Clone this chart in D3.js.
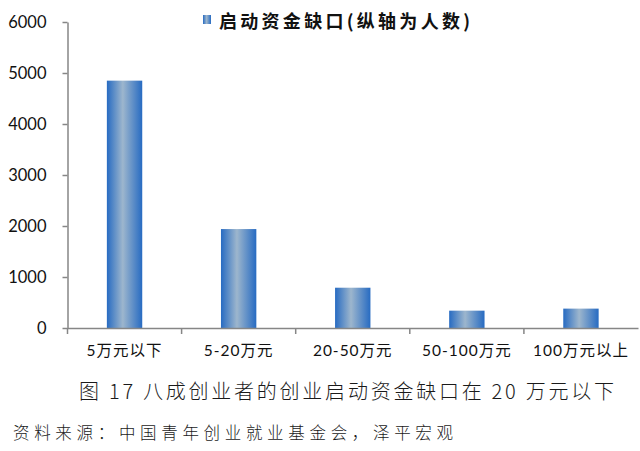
<!DOCTYPE html>
<html><head><meta charset="utf-8">
<script src="https://cdn.jsdelivr.net/npm/d3@7"></script>
<style>body{margin:0;background:#fff}svg{display:block}</style>
</head><body>
<script>
const categories = ["5万元以下", "5-20万元", "20-50万元", "50-100万元", "100万元以上"];
const values = [4850, 1940, 790, 340, 380];
const yTicks = [0, 1000, 2000, 3000, 4000, 5000, 6000];
const seriesName = "启动资金缺口(纵轴为人数)";
const caption = "图 17 八成创业者的创业启动资金缺口在 20 万元以下";
const source = "资料来源：中国青年创业就业基金会，泽平宏观";

const W = 640, H = 451;
const svg = d3.select("body").append("svg").attr("width", W).attr("height", H);
const defs = svg.append("defs");
const grad = defs.append("linearGradient").attr("id", "barGrad").attr("x1", "0%").attr("x2", "100%").attr("y1", "0%").attr("y2", "0%");
grad.append("stop").attr("offset", "0%").attr("stop-color", "#276bc2");
grad.append("stop").attr("offset", "45%").attr("stop-color", "#9db6cd");
grad.append("stop").attr("offset", "100%").attr("stop-color", "#276bc2");

const mLeft = 67.5, mRight = 638, mTop = 22, mBottom = 328;
const x = d3.scaleBand().domain(categories).range([mLeft, mRight]).paddingInner(0.69).paddingOuter(0.345);
const xb = d3.scaleBand().domain(categories).range([mLeft, mRight]);
const y = d3.scaleLinear().domain([0, 6000]).range([mBottom, mTop]);

// bars
svg.append("g").selectAll("rect").data(values).join("rect")
  .attr("x", (d, i) => x(categories[i]))
  .attr("width", x.bandwidth())
  .attr("y", d => y(d))
  .attr("height", d => y(0) - y(d))
  .attr("fill", "url(#barGrad)");

// y axis
const ya = svg.append("g").attr("transform", `translate(${mLeft},0)`)
  .call(d3.axisLeft(y).tickValues(yTicks).tickSize(5).tickSizeOuter(0).tickPadding(16).tickFormat(d3.format("d")));
ya.select(".domain").attr("stroke", "#868686").attr("stroke-width", 1.5);
ya.selectAll(".tick line").attr("stroke", "#868686").attr("stroke-width", 1.5);
ya.selectAll(".tick text").attr("font-family", "Lato, 'Open Sans', sans-serif").attr("font-size", 16.5).attr("fill", "#111");

// x axis line + labels
const xa = svg.append("g").attr("transform", `translate(0,${mBottom})`)
  .call(d3.axisBottom(xb).tickSize(0).tickSizeOuter(0).tickPadding(17));
xa.select(".domain").attr("stroke", "#868686").attr("stroke-width", 1.5);
xa.selectAll(".tick text").attr("font-family", "Lato, 'Noto Sans CJK SC', sans-serif").attr("font-size", 15.5)
  .attr("letter-spacing", 1).attr("fill", "#111");
// category boundary ticks
const bounds = categories.map(c => xb(c));
svg.append("g").selectAll("line").data(bounds).join("line")
  .attr("x1", d => d).attr("x2", d => d)
  .attr("y1", mBottom).attr("y2", mBottom + 6)
  .attr("stroke", "#868686").attr("stroke-width", 1.5);

// legend
svg.append("rect").attr("x", 203).attr("y", 15).attr("width", 8).attr("height", 9).attr("fill", "url(#barGrad)");
svg.append("text").attr("x", 219).attr("y", 27.5).text(seriesName)
  .attr("font-family", "'Noto Sans CJK SC', sans-serif").attr("font-weight", "bold")
  .attr("font-size", 18).attr("fill", "#111")
  .attr("textLength", 251).attr("lengthAdjust", "spacing");

// caption
svg.append("text").attr("x", 79).attr("y", 399).text(caption)
  .attr("font-family", "'Noto Sans CJK SC', sans-serif").attr("font-weight", 300)
  .attr("font-size", 20).attr("fill", "#1a1a1a")
  .attr("textLength", 535).attr("lengthAdjust", "spacing");

// source
svg.append("text").attr("x", 13).attr("y", 439).text(source)
  .attr("font-family", "'Noto Sans CJK SC', sans-serif").attr("font-weight", 300)
  .attr("font-size", 16.5).attr("fill", "#1a1a1a")
  .attr("textLength", 440).attr("lengthAdjust", "spacing");
</script>
</body></html>
